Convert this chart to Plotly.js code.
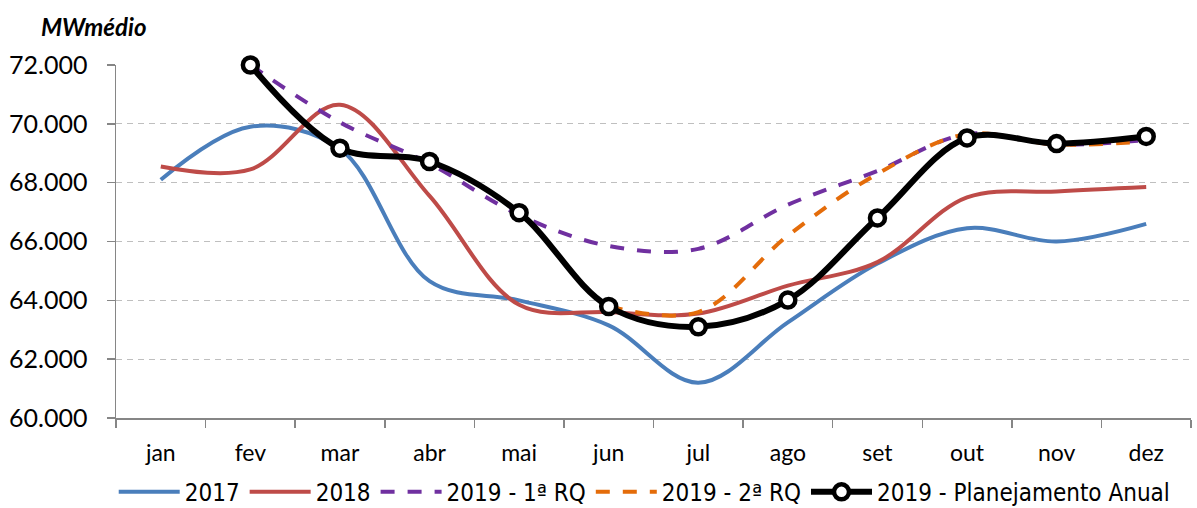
<!DOCTYPE html>
<html>
<head>
<meta charset="utf-8">
<script src="https://cdn.plot.ly/plotly-3.0.1.min.js"></script>
<style>
html,body{margin:0;padding:0;background:#fff;}
#chart{width:1197px;height:508px;}
</style>
</head>
<body>
<div id="chart"></div>
<script>
const months = ["jan","fev","mar","abr","mai","jun","jul","ago","set","out","nov","dez"];
const s2017 = [68100, 69900, 69150, 64650, 64000, 63150, 61200, 63250, 65250, 66450, 66000, 66600];
const s2018 = [68550, 68450, 70650, 67550, 63850, 63600, 63550, 64500, 65300, 67500, 67700, 67850];
const s2019rq1 = [null, 72000, 70050, 68650, 66900, 65850, 65750, 67250, 68400, 69650, 69300, 69450];
const s2019rq2 = [null, null, null, null, null, 63800, 63600, 66200, 68300, 69650, 69300, 69400];
const s2019plan = [null, 72000, 69170, 68720, 66980, 63790, 63100, 64010, 66800, 69520, 69330, 69570];
const yTicks = [60000, 62000, 64000, 66000, 68000, 70000, 72000];

const FONT = 'Lato, "Open Sans", sans-serif';
const LEGFONT = '"Liberation Sans Narrow", "DejaVu Sans Condensed", Lato, sans-serif';

const traces = [
  {x: months, y: s2017, name: "2017", mode: "lines", line: {color: "#4A7EBB", width: 4, shape: "spline", smoothing: 1}},
  {x: months, y: s2018, name: "2018", mode: "lines", line: {color: "#BE4B48", width: 4, shape: "spline", smoothing: 1}},
  {x: months, y: s2019rq1, name: "2019 - 1ª RQ", mode: "lines", line: {color: "#7030A0", width: 4, shape: "spline", smoothing: 1, dash: "14px,13px"}},
  {x: months, y: s2019rq2, name: "2019 - 2ª RQ", mode: "lines", line: {color: "#E46C0A", width: 4, shape: "spline", smoothing: 1, dash: "14px,13px"}},
  {x: months, y: s2019plan, name: "2019 - Planejamento Anual", mode: "lines+markers", cliponaxis: false,
   line: {color: "#000000", width: 6, shape: "spline", smoothing: 1},
   marker: {symbol: "circle", size: 15, color: "#FFFFFF", line: {color: "#000000", width: 4.5}}}
];

const layout = {
  width: 1197, height: 508,
  margin: {l: 116, r: 6, t: 65, b: 90, autoexpand: false},
  paper_bgcolor: "#FFFFFF", plot_bgcolor: "#FFFFFF",
  separators: ",.",
  font: {family: FONT, color: "#000000", size: 22},
  showlegend: true,
  legend: {
    orientation: "h", xref: "container", yref: "container",
    x: 0.095, xanchor: "left", y: 0.031, yanchor: "middle",
    font: {family: LEGFONT, size: 24, color: "#000000"},
    itemwidth: 61, tracegroupgap: 0, bgcolor: "rgba(0,0,0,0)"
  },
  xaxis: {
    type: "category", range: [-0.5, 11.5], fixedrange: true,
    showline: true, linecolor: "#868686", linewidth: 1.5,
    ticks: "outside", tickson: "boundaries", ticklen: 8, tickcolor: "#868686", tickwidth: 1.5,
    showgrid: false, zeroline: false,
    tickfont: {family: FONT, size: 23, color: "#000000"},
    ticklabelstandoff: 14
  },
  yaxis: {
    range: [60000, 72000], fixedrange: true,
    tickvals: yTicks, tickformat: ",.0f",
    showline: true, linecolor: "#868686", linewidth: 1.5,
    ticks: "outside", ticklen: 8, tickcolor: "#868686", tickwidth: 1.5,
    showgrid: true, gridcolor: "#BFBFBF", gridwidth: 1.3, griddash: "6px,5px",
    zeroline: false,
    tickfont: {family: FONT, size: 25, color: "#000000"},
    ticklabelstandoff: 14
  },
  annotations: [{
    text: "<b><i>MWmédio</i></b>", xref: "paper", yref: "paper",
    x: -0.072, y: 1.11, xanchor: "left", yanchor: "middle", showarrow: false,
    font: {family: FONT, size: 24, color: "#000000"}
  }]
};

Plotly.newPlot("chart", traces, layout, {displayModeBar: false, staticPlot: true});
</script>
</body>
</html>
